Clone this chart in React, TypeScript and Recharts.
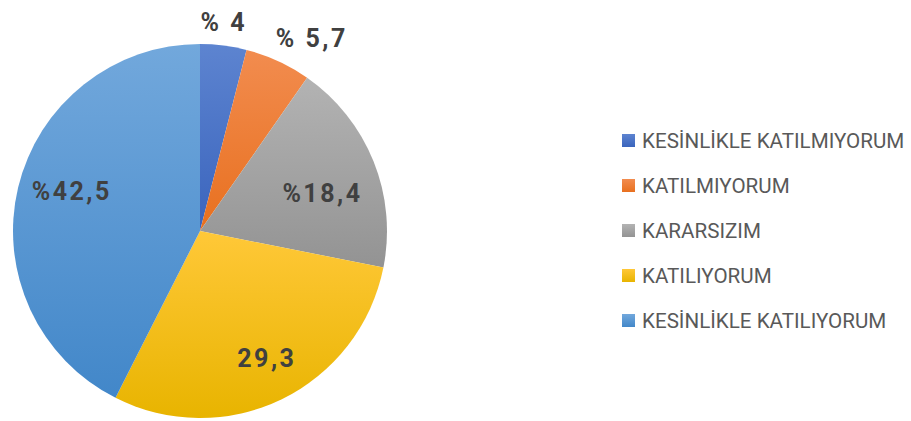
import { PieChart, Pie, Cell, Legend } from 'recharts';

// ── Data ────────────────────────────────────────────────────────────────────
const CATEGORIES = [
    'KESİNLİKLE KATILMIYORUM',
    'KATILMIYORUM',
    'KARARSIZIM',
    'KATILIYORUM',
    'KESİNLİKLE KATILIYORUM',
];
const VALUES = [4, 5.7, 18.4, 29.3, 42.5];
const LABELS = ['% 4', '% 5,7', '%18,4', '29,3', '%42,5'];

const DATA = CATEGORIES.map((name, i) => ({ name, value: VALUES[i], label: LABELS[i] }));

// light top / dark bottom, Excel style shading
const COLORS = [
    ['#5d84d0', '#3a64bd'],
    ['#f28c4f', '#e8701f'],
    ['#b3b3b3', '#939393'],
    ['#ffc838', '#e8b400'],
    ['#72a8dc', '#4287c9'],
];

// label placement (Excel best fit): distance from centre, angle nudge (deg, clockwise)
const LABEL_DIST = [210, 223, 128, 144, 134];
const LABEL_NUDGE = [-0.7, 5.4, 5, -1.7, 3.5];

const CX = 200;
const CY = 231;
const R = 187;
const RAD = Math.PI / 180;

const renderLabel = (props: any) => {
    const { cx, cy, midAngle, index } = props;
    const a = (midAngle - LABEL_NUDGE[index]) * RAD;
    const r = LABEL_DIST[index];
    const x = cx + r * Math.cos(-a);
    const y = cy + r * Math.sin(-a);
    return (
        <text
            x={x}
            y={y}
            textAnchor="middle"
            dominantBaseline="central"
            fill="#404040"
            fontFamily="Roboto, sans-serif"
            fontWeight="bold"
            fontSize={25}
            letterSpacing={2.5}
        >
            {DATA[index].label}
        </text>
    );
};

const renderLegend = () => (
    <div>
        {CATEGORIES.map((c, i) => (
            <div key={c} style={{ display: 'flex', alignItems: 'center', height: 45 }}>
                <span
                    style={{
                        width: 13,
                        height: 13,
                        marginRight: 7,
                        display: 'inline-block',
                        background: `linear-gradient(${COLORS[i][0]}, ${COLORS[i][1]})`,
                    }}
                />
                <span
                    style={{
                        fontFamily: 'Roboto, sans-serif',
                        fontSize: 20.6,
                        color: '#595959',
                        whiteSpace: 'nowrap',
                    }}
                >
                    {c}
                </span>
            </div>
        ))}
    </div>
);

export default function App() {
    return (
        <div style={{ position: 'absolute', left: 0, top: 0, width: 911, height: 421, background: '#fff' }}>
            <PieChart width={911} height={421} margin={{ top: 0, right: 0, bottom: 0, left: 0 }}>
                <defs>
                    {COLORS.map((c, i) => (
                        <linearGradient key={i} id={`grad${i}`} x1={0} y1={0} x2={0} y2={1}>
                            <stop offset="0%" stopColor={c[0]} />
                            <stop offset="100%" stopColor={c[1]} />
                        </linearGradient>
                    ))}
                </defs>
                <Pie
                    data={DATA}
                    dataKey="value"
                    nameKey="name"
                    cx={CX}
                    cy={CY}
                    outerRadius={R}
                    startAngle={90}
                    endAngle={-270}
                    stroke="none"
                    label={renderLabel}
                    labelLine={false}
                    isAnimationActive={false}
                >
                    {DATA.map((d, i) => (
                        <Cell key={d.name} fill={`url(#grad${i})`} />
                    ))}
                </Pie>
                <Legend
                    content={renderLegend}
                    wrapperStyle={{ position: 'absolute', left: 622, top: 118, width: 289 }}
                />
            </PieChart>
        </div>
    );
}
